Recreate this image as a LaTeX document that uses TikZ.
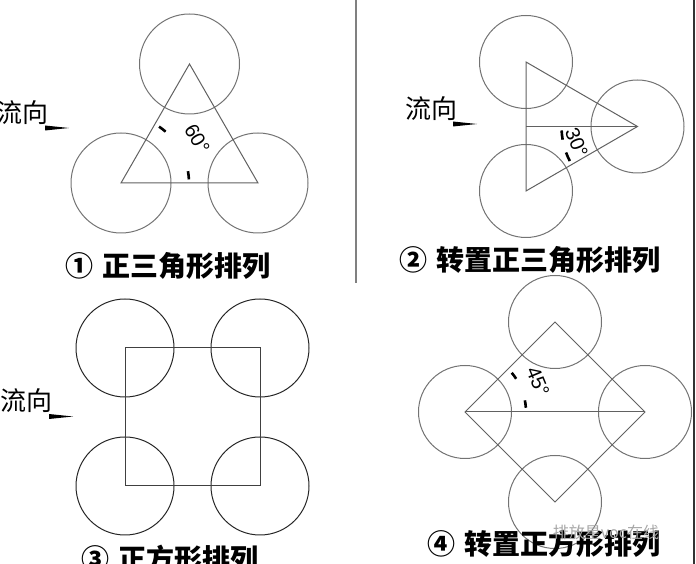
\documentclass[tikz,border=0pt]{standalone}
\usepackage{fontspec}
\setmainfont{Liberation Sans}
\newfontfamily\cjk{Noto Sans CJK SC}
\begin{document}
\begin{tikzpicture}
    [x=1pt,y=1pt,inner sep=0pt,
     tube/.style={circle,draw=black!55,line width=1pt},
     edge/.style={draw=black!62,line width=1pt},
     tick/.style={line width=2.6pt},
     deg/.style={font=\fontsize{20}{20}\selectfont},
     flow/.style={font=\cjk\fontsize{26}{26}\selectfont},
     title/.style={font=\cjk\bfseries\fontsize{28}{28}\selectfont}]
    \useasboundingbox (0,0) rectangle (696,564);
    \draw [black!50,line width=1.2pt] (356,564) -- (356,281);
    \draw [black!80,line width=1.2pt] (694,564) -- (694,0);
    % 1: triangle
    \node (t1) at (189.5,500) [tube,minimum size=100pt] {};
    \node (l1) at (121,381) [tube,minimum size=100pt] {};
    \node (r1) at (258,381) [tube,minimum size=100pt] {};
    \draw [edge] (t1.center) -- (l1.center) -- (r1.center) -- cycle;
    \draw [tick] (l1.center) ++(3:68) arc [start angle=3,end angle=10,radius=68];
    \draw [tick] (l1.center) ++(49:68) arc [start angle=49,end angle=56,radius=68];
    \node (a1) at ([shift={(30:88)}]l1.center) [deg,rotate=-60] {60°};
    \node (f1) at (23,451.5) [flow] {流向};
    \fill ([shift={(22,-13)}]f1.center) -- ++(0,-5) -- ++(24,2.5) -- cycle;
    \node (c1) at (168,298) [title] {①\hspace{0.35em}正三角形排列};
    % 2: rotated triangle
    \node (t2) at (526,502) [tube,minimum size=93pt] {};
    \node (b2) at (526,373) [tube,minimum size=93pt] {};
    \node (r2) at (637.5,437.5) [tube,minimum size=93pt] {};
    \coordinate (m2) at (526,437.5);
    \draw [edge] (t2.center) -- (r2.center) -- (b2.center) -- cycle;
    \draw [edge] (m2) -- (r2.center);
    \draw [tick] (r2.center) ++(183:76) arc [start angle=183,end angle=190,radius=76];
    \draw [tick] (r2.center) ++(200:76) arc [start angle=200,end angle=207,radius=76];
    \node (a2) at ([shift={(195:63)}]r2.center) [deg,rotate=-68] {30°};
    \node (f2) at (431,455.5) [flow] {流向};
    \fill ([shift={(22,-13)}]f2.center) -- ++(0,-5) -- ++(24,2.5) -- cycle;
    \node (c2) at (530,304) [title] {②\hspace{0.35em}转置正三角形排列};
    % 3: square
    \node (tl3) at (125,216) [tube,draw=black!85,minimum size=98pt] {};
    \node (tr3) at (260,216) [tube,draw=black!85,minimum size=98pt] {};
    \node (bl3) at (125,78) [tube,draw=black!85,minimum size=98pt] {};
    \node (br3) at (260,78) [tube,draw=black!85,minimum size=98pt] {};
    \draw [edge,draw=black!75] (tl3.center) -- (tr3.center) -- (br3.center) -- (bl3.center) -- cycle;
    \node (f3) at (27,163) [flow] {流向};
    \fill ([shift={(22,-13)}]f3.center) -- ++(0,-5) -- ++(24,2.5) -- cycle;
    \node (c3) at (170,5) [title] {③\hspace{0.35em}正方形排列};
    % 4: rotated square
    \node (t4) at (555,242) [tube,minimum size=93pt] {};
    \node (l4) at (465,152) [tube,minimum size=93pt] {};
    \node (r4) at (645,152) [tube,minimum size=93pt] {};
    \node (b4) at (555,62) [tube,minimum size=93pt] {};
    \draw [edge] (t4.center) -- (r4.center) -- (b4.center) -- (l4.center) -- cycle;
    \draw [edge] (l4.center) -- (r4.center);
    \draw [tick] (l4.center) ++(4:61) arc [start angle=4,end angle=11,radius=61];
    \draw [tick] (l4.center) ++(33:61) arc [start angle=33,end angle=40,radius=61];
    \node (a4) at ([shift={(22.5:79)}]l4.center) [deg,rotate=-67.5] {45°};
    \node (c4) at (544,20.5) [title] {④\hspace{0.35em}转置正方形排列};
    \node (wm) at (606,32) [font=\cjk\fontsize{16}{16}\selectfont,text=black!35] {排放星voc在线};
\end{tikzpicture}
\end{document}
